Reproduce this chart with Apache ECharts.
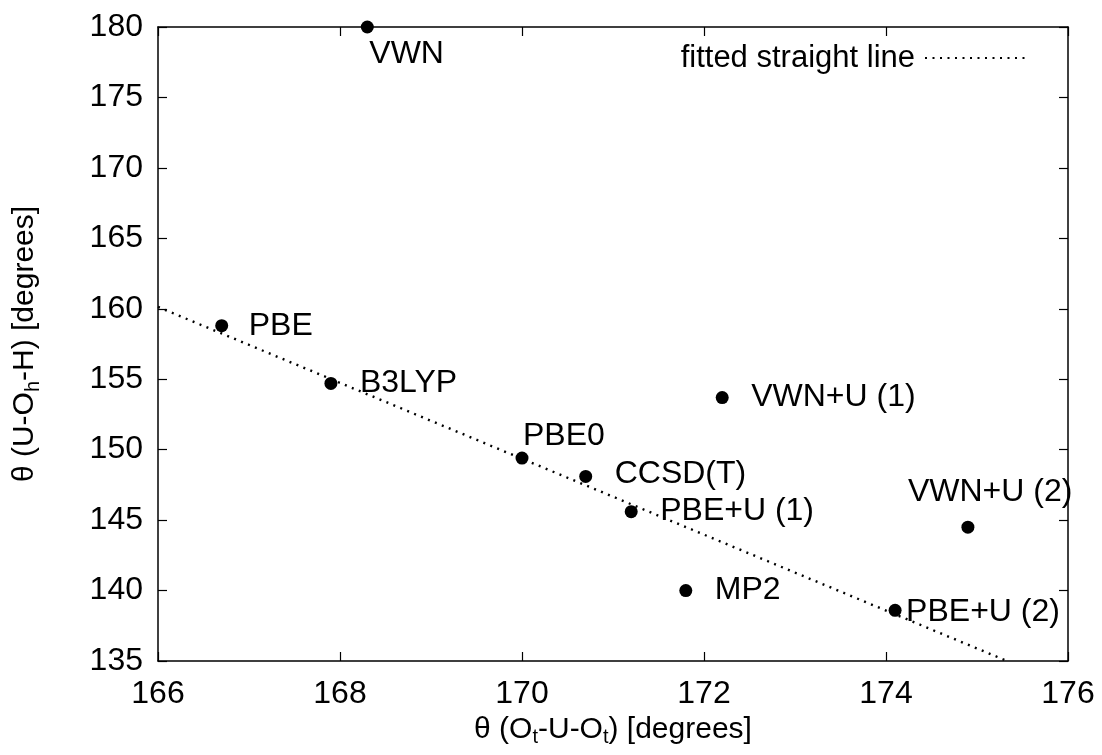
<!DOCTYPE html>
<html>
<head>
<meta charset="utf-8">
<script src="https://cdn.jsdelivr.net/npm/echarts@6/dist/echarts.min.js"></script>
<style>
html,body{margin:0;padding:0;background:#fff;}
#chart{width:1102px;height:755px;}
</style>
</head>
<body>
<div id="chart"></div>
<script>
// ---- data ----
const methods = ['VWN', 'PBE', 'B3LYP', 'PBE0', 'CCSD(T)', 'PBE+U (1)', 'MP2', 'VWN+U (1)', 'VWN+U (2)', 'PBE+U (2)'];
const xAngles = [168.3, 166.7, 167.9, 170.0, 170.7, 171.2, 171.8, 172.2, 174.9, 174.1];
const yAngles = [180.0, 158.8, 154.7, 149.4, 148.1, 145.6, 140.0, 153.7, 144.5, 138.6];
const fitX = [166.0, 175.33];
const fitY = [160.13, 135.0];
const xTicks = [166, 168, 170, 172, 174, 176];
const yTicks = [135, 140, 145, 150, 155, 160, 165, 170, 175, 180];

// ---- label placement (style, not data): offset of label's left-middle from dot centre ----
const labelOffsets = [[2, 27], [27, 0], [29, 0], [1, -22], [29, -2], [29, 0], [29, 0], [29, 0], [-60, -35], [11, 2]];

const FONT = 'Liberation Sans, Arial, sans-serif';
const FS = 32;
const SYM = 13;

const scatterData = methods.map((m, i) => ({
  value: [xAngles[i], yAngles[i]],
  name: m,
  label: {
    show: true,
    formatter: m,
    color: '#000',
    fontSize: FS,
    fontFamily: FONT,
    position: [SYM / 2 + labelOffsets[i][0], SYM / 2 + labelOffsets[i][1]],
    align: 'left',
    verticalAlign: 'middle'
  }
}));

const fitData = fitX.map((x, i) => [x, fitY[i]]);

const axisCommon = {
  type: 'value',
  axisLine: { show: true, lineStyle: { color: '#000', width: 1.5 } },
  axisTick: { show: true, inside: true, length: 9, lineStyle: { color: '#000', width: 1.2 } },
  splitLine: { show: false }
};

const chart = echarts.init(document.getElementById('chart'), null, { renderer: 'canvas' });
chart.setOption({
  animation: false,
  backgroundColor: '#fff',
  textStyle: { fontFamily: FONT },
  grid: { left: 158, right: 34, top: 27, bottom: 94, show: false },
  legend: {
    data: ['fitted straight line'],
    right: 71,
    top: 37,
    align: 'right',
    itemWidth: 100,
    itemHeight: 14,
    itemStyle: { opacity: 0 },
    textStyle: { fontFamily: FONT, fontSize: 31, color: '#000', lineHeight: 32, padding: [0, 5, 0, 0] }
  },
  xAxis: [
    Object.assign({}, axisCommon, {
      position: 'bottom',
      min: xTicks[0], max: xTicks[xTicks.length - 1], interval: xTicks[1] - xTicks[0],
      axisLabel: { color: '#000', fontSize: FS, fontFamily: FONT, margin: 17 },
      name: '{n|θ (O}{s|t}{n|-U-O}{s|t}{n|) [degrees]}',
      nameLocation: 'middle',
      nameGap: 40,
      nameTextStyle: {
        rich: {
          n: { fontSize: 30, fontFamily: FONT, color: '#000', lineHeight: 36, verticalAlign: 'middle' },
          s: { fontSize: 20, fontFamily: FONT, color: '#000', lineHeight: 36, verticalAlign: 'bottom' }
        }
      }
    }),
    Object.assign({}, axisCommon, {
      position: 'top',
      min: xTicks[0], max: xTicks[xTicks.length - 1], interval: xTicks[1] - xTicks[0],
      axisLabel: { show: false }
    })
  ],
  yAxis: [
    Object.assign({}, axisCommon, {
      position: 'left',
      min: yTicks[0], max: yTicks[yTicks.length - 1], interval: yTicks[1] - yTicks[0],
      axisLabel: { color: '#000', fontSize: FS, fontFamily: FONT, margin: 15 },
      name: '{n|θ (U-O}{s|h}{n|-H) [degrees]}',
      nameLocation: 'middle',
      nameGap: 115,
      nameTextStyle: {
        rich: {
          n: { fontSize: 30, fontFamily: FONT, color: '#000', lineHeight: 36, verticalAlign: 'middle' },
          s: { fontSize: 20, fontFamily: FONT, color: '#000', lineHeight: 36, verticalAlign: 'bottom' }
        }
      }
    }),
    Object.assign({}, axisCommon, {
      position: 'right',
      min: yTicks[0], max: yTicks[yTicks.length - 1], interval: yTicks[1] - yTicks[0],
      axisLabel: { show: false }
    })
  ],
  series: [
    {
      name: 'fitted straight line',
      type: 'line',
      data: fitData,
      symbol: 'none',
      showSymbol: false,
      lineStyle: { color: '#000', width: 2.4, type: [2, 5.5] },
      itemStyle: { color: '#000' },
      z: 2,
      silent: true
    },
    {
      name: 'methods',
      type: 'scatter',
      data: scatterData,
      symbol: 'circle',
      symbolSize: SYM,
      itemStyle: { color: '#000', opacity: 1 },
      z: 3
    }
  ]
});
</script>
</body>
</html>
